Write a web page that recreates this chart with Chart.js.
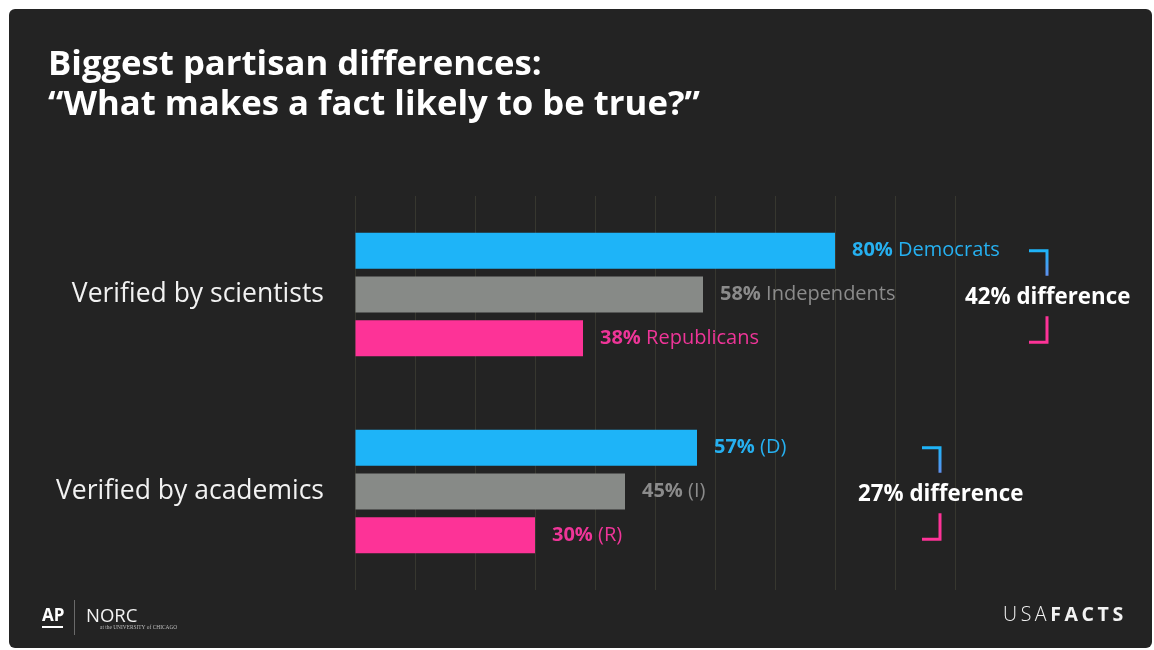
<!DOCTYPE html>
<html>
<head>
<meta charset="utf-8">
<script src="https://cdn.jsdelivr.net/npm/chart.js@4.4.1/dist/chart.umd.min.js"></script>
<style>
  html, body { margin: 0; padding: 0; background: #ffffff; }
  #wrap { position: absolute; left: 0; top: 0; width: 1154px; height: 650px; }
</style>
</head>
<body>
<div id="wrap"><canvas id="partisanChart"></canvas></div>
<script>
const categories = ['Verified by scientists', 'Verified by academics'];
const democrats = [80, 57];
const independents = [58, 45];
const republicans = [38, 30];
const partyNames = [
    ['Democrats', 'Independents', 'Republicans'],
    ['(D)', '(I)', '(R)']
];
const gridValues = [0, 10, 20, 30, 40, 50, 60, 70, 80, 90, 100];

const colors = {
    dem: '#1eb4f8',
    ind: '#878a87',
    rep: '#fd3397',
    demText: '#26b0f0',
    indText: '#8b8b8b',
    repText: '#ee3598'
};

const titleLines = ['Biggest partisan differences:', '\u201CWhat makes a fact likely to be true?\u201D'];
// where the bracket of each "difference" note sits
const bracketX = [1047, 940];

const overlay = {
    id: 'overlay',
    beforeDraw(chart) {
        const ctx = chart.ctx;
        ctx.save();
        ctx.fillStyle = '#ffffff';
        ctx.fillRect(0, 0, chart.width, chart.height);
        ctx.fillStyle = '#232323';
        ctx.beginPath();
        ctx.roundRect(9, 9, 1143, 639, 6);
        ctx.fill();
        ctx.restore();
    },
    afterDatasetsDraw(chart) {
        const ctx = chart.ctx;
        const textColors = [colors.demText, colors.indText, colors.repText];
        ctx.save();
        ctx.textBaseline = 'middle';
        chart.data.datasets.forEach((ds, i) => {
            const meta = chart.getDatasetMeta(i);
            meta.data.forEach((bar, j) => {
                const x = bar.x + 17;
                const y = bar.y;
                ctx.fillStyle = textColors[i];
                ctx.font = '700 20px "Open Sans"';
                const pct = ds.data[j] + '%';
                ctx.fillText(pct, x, y);
                const w = ctx.measureText(pct).width;
                ctx.font = '400 20px "Open Sans"';
                ctx.fillText(' ' + partyNames[j][i], x + w, y);
            });
        });

        // difference notes with brackets
        const demMeta = chart.getDatasetMeta(0);
        const indMeta = chart.getDatasetMeta(1);
        const repMeta = chart.getDatasetMeta(2);
        categories.forEach((c, j) => {
            const bx = bracketX[j];
            const topY = demMeta.data[j].y;
            const midY = indMeta.data[j].y;
            const botY = repMeta.data[j].y + 4;
            ctx.lineWidth = 3;
            ctx.lineCap = 'butt';
            const g = ctx.createLinearGradient(0, topY, 0, topY + 25);
            g.addColorStop(0, colors.dem);
            g.addColorStop(1, '#5f90ee');
            ctx.strokeStyle = g;
            ctx.beginPath();
            ctx.moveTo(bx - 18, topY);
            ctx.lineTo(bx, topY);
            ctx.lineTo(bx, topY + 25);
            ctx.stroke();
            ctx.strokeStyle = colors.rep;
            ctx.beginPath();
            ctx.moveTo(bx, botY - 26);
            ctx.lineTo(bx, botY);
            ctx.lineTo(bx - 18, botY);
            ctx.stroke();

            const diff = democrats[j] - republicans[j];
            ctx.fillStyle = '#ffffff';
            ctx.font = '700 22.3px "Open Sans"';
            ctx.textAlign = 'left';
            ctx.fillText(diff + '% difference', bx - 82, midY + 3);
        });
        ctx.restore();
    },
    afterDraw(chart) {
        const ctx = chart.ctx;
        ctx.save();
        ctx.fillStyle = '#ffffff';
        ctx.textBaseline = 'alphabetic';
        ctx.font = '700 34.7px "Open Sans"';
        ctx.fillText(titleLines[0], 48, 75);
        ctx.fillText(titleLines[1], 48, 115);

        // AP logo
        ctx.font = '700 17px "Open Sans"';
        ctx.fillText('AP', 42, 621);
        ctx.fillRect(42, 626, 21, 2);
        ctx.fillStyle = '#6a6a6a';
        ctx.fillRect(74, 600, 1, 35);
        // NORC logo
        ctx.fillStyle = '#f2f2f2';
        ctx.font = '400 18.5px "Open Sans"';
        ctx.fillText('NORC', 86, 622);
        ctx.font = '400 5.4px "Liberation Serif"';
        ctx.fillStyle = '#bdbdbd';
        ctx.fillText('at the UNIVERSITY of CHICAGO', 100, 629);

        // USAFACTS logo
        ctx.fillStyle = '#f2f2f2';
        ctx.letterSpacing = '3.6px';
        ctx.font = '300 19.5px "Open Sans"';
        ctx.fillText('USA', 1003, 621);
        const w = ctx.measureText('USA').width;
        ctx.font = '700 19.5px "Open Sans"';
        ctx.fillText('FACTS', 1003 + w, 621);
        ctx.restore();
    }
};

const ctx = document.getElementById('partisanChart').getContext('2d');
const config = {
    type: 'bar',
    data: {
        labels: categories,
        datasets: [
            { label: 'Democrats', data: democrats, backgroundColor: colors.dem },
            { label: 'Independents', data: independents, backgroundColor: colors.ind },
            { label: 'Republicans', data: republicans, backgroundColor: colors.rep }
        ]
    },
    options: {
        indexAxis: 'y',
        responsive: true,
        maintainAspectRatio: false,
        animation: false,
        layout: { padding: { left: 0, right: 199, top: 196, bottom: 60 } },
        datasets: {
            bar: { barPercentage: 36 / 44, categoryPercentage: 132 / 198 }
        },
        plugins: {
            legend: { display: false },
            tooltip: { enabled: false }
        },
        scales: {
            x: {
                min: 0,
                max: 100,
                afterBuildTicks(scale) {
                    scale.ticks = gridValues.map(v => ({ value: v }));
                },
                afterFit(scale) { scale.height = 0; },
                ticks: { display: false },
                border: { display: false },
                grid: { color: '#37372f', lineWidth: 1, drawTicks: false }
            },
            y: {
                afterFit(scale) { scale.width = 355; },
                border: { display: false },
                grid: { display: false },
                ticks: {
                    color: '#f2f2f2',
                    padding: 23,
                    font: { family: '"Open Sans"', size: 26.5, weight: 400 }
                }
            }
        }
    },
    plugins: [overlay]
};

const partisanChart = new Chart(ctx, config);
</script>
</body>
</html>
